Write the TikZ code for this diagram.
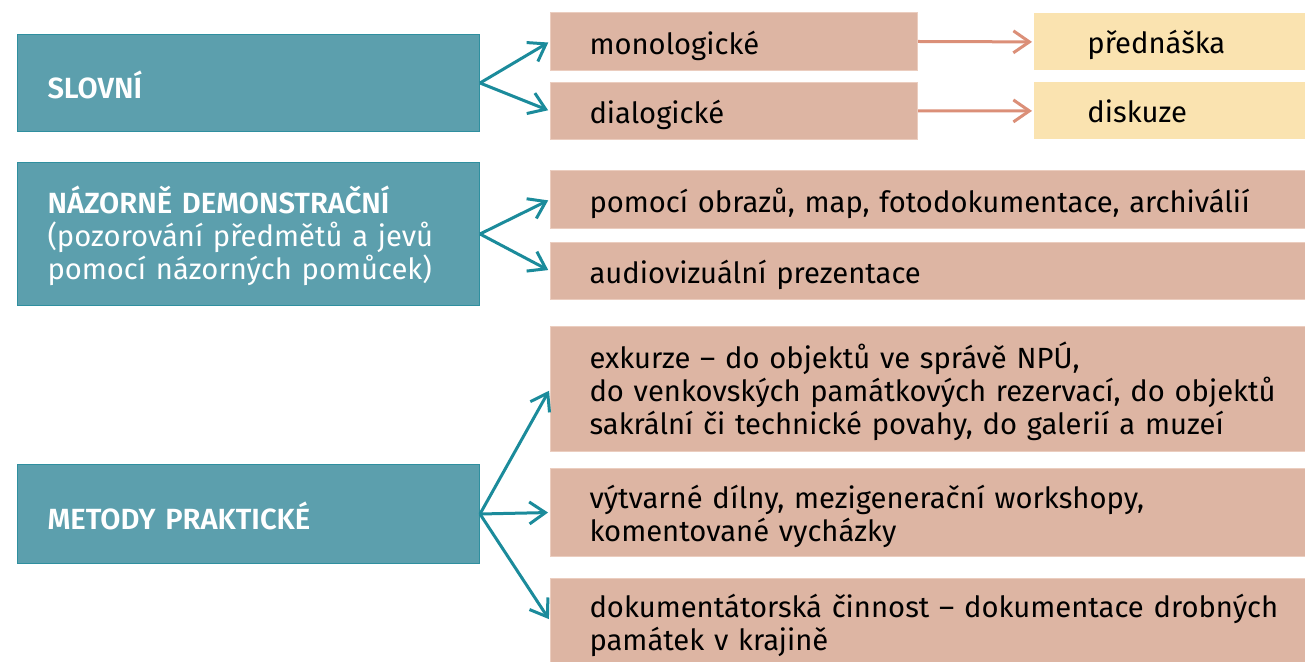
\documentclass[tikz,border=0pt]{standalone}
\usepackage{fontspec}
\setmainfont{Fira Sans}[BoldFont={* SemiBold}]
\usetikzlibrary{positioning,arrows.meta}
\newlength\px
\setlength\px{0.5pt}
\definecolor{methodfill}{HTML}{5C9FAD}
\definecolor{methodline}{HTML}{2F8F9F}
\definecolor{branchteal}{HTML}{1B8B9B}
\definecolor{subfill}{HTML}{DDB5A3}
\definecolor{subline}{HTML}{EBCDBF}
\definecolor{subarrow}{HTML}{DB8F78}
\definecolor{formfill}{HTML}{FAE3B0}
\tikzset{
  method box/.style={
    fill=methodfill,
    draw=methodline,
    line width=1\px,
    text=white,
    anchor=north west,
    align=left,
    inner xsep=30\px,
    text width=402\px,
    minimum width=462\px,
    minimum height=#1\px,
    execute at begin node={\rule{0pt}{16pt}},
  },
  sub box/.style 2 args={
    fill=subfill,
    draw=subline,
    line width=1\px,
    anchor=north west,
    align=left,
    inner xsep=39\px,
    text width={(#1-78)*\px},
    minimum width=#1\px,
    minimum height=#2\px,
    execute at begin node={\rule{0pt}{16pt}},
  },
  form box/.style={
    fill=formfill,
    anchor=north west,
    align=left,
    inner xsep=53\px,
    text width=165\px,
    minimum width=271\px,
    minimum height=#1\px,
    execute at begin node={\rule[-4pt]{0pt}{20pt}},
  },
  branch/.style={
    draw=branchteal,
    line width=1.5pt,
    -{Straight Barb[length=8pt,width=11pt,line width=1.5pt]},
    shorten >=2\px,
  },
  lead/.style={
    draw=subarrow,
    line width=1.5pt,
    -{Straight Barb[length=8pt,width=11pt,line width=1.5pt]},
    shorten >=2\px,
  }
}

\begin{document}
\begin{tikzpicture}[x=0.5pt,y=-0.5pt,font=\fontsize{14.6}{16.5}\selectfont]
        \useasboundingbox (0,0) rectangle (1305,662);

        \node [method box=97] (slovni) at (17,34) {\bfseries SLOVNÍ};
        \node [method box=143] (nazorne) at (17,162) {{\bfseries NÁZORNĚ DEMONSTRAČNÍ}\\(pozorování předmětů a jevů\\pomocí názorných pomůcek)};
        \node [method box=99] (prakticke) at (17,464) {\bfseries METODY PRAKTICKÉ};

        \node [sub box={367}{58}] (mono) at (550,12) {monologické};
        \node [sub box={367}{57}] (dialog) at (550,82) {dialogické};
        \node [form box=57] (prednaska) at (1034,13) {přednáška};
        \node [form box=57] (diskuze) at (1034,82) {diskuze};

        \node [sub box={755}{58}] (obrazy) at (550,170) {pomocí obrazů, map, fotodokumentace, archiválií};
        \node [sub box={755}{57}] (audio) at (550,242) {audiovizuální prezentace};

        \node [sub box={755}{125}] (exkurze) at (550,326) {\mbox{exkurze – do objektů ve správě NPÚ,}\\\mbox{do venkovských památkových rezervací, do objektů}\\\mbox{sakrální či technické povahy, do galerií a muzeí}};
        \node [sub box={755}{88}] (dilny) at (550,468) {výtvarné dílny, mezigenerační workshopy,\\komentované vycházky};
        \node [sub box={755}{84}] (dokument) at (550,578) {\mbox{dokumentátorská činnost – dokumentace drobných}\\památek v krajině};

        \draw [branch] (slovni.east) -- (mono.west);
        \draw [branch] (slovni.east) -- (dialog.west);
        \draw [lead] (mono.east) -- (prednaska.west);
        \draw [lead] (dialog.east) -- (diskuze.west);

        \draw [branch] (nazorne.east) -- (obrazy.west);
        \draw [branch] (nazorne.east) -- (audio.west);

        \draw [branch] (prakticke.east) -- (exkurze.west);
        \draw [branch] (prakticke.east) -- (dilny.west);
        \draw [branch] (prakticke.east) -- (dokument.west);
    \end{tikzpicture}
\end{document}
